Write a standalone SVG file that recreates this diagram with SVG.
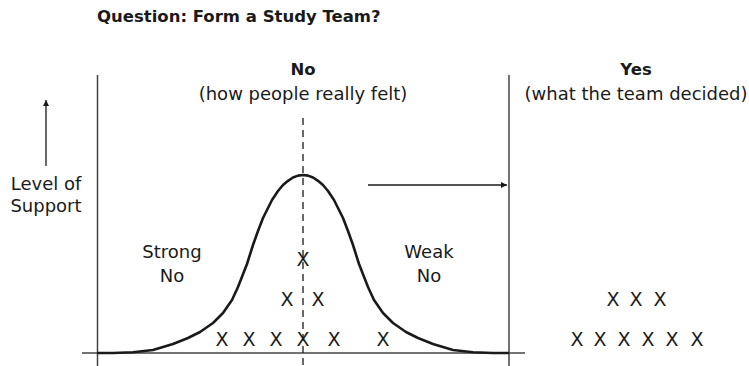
<svg xmlns="http://www.w3.org/2000/svg" width="749" height="366" viewBox="0 0 749 366">
<style>
  text { font-family: "DejaVu Sans", "Liberation Sans", sans-serif; fill: #1a1a1a; }
  .b { font-weight: bold; font-size: 16.5px; }
  .r { font-size: 18px; }
  .x { font-size: 19px; text-anchor: middle; }
  .m { text-anchor: middle; }
  .ax { stroke: #444; stroke-width: 1.5; fill: none; }
  .cv { stroke: #1a1a1a; stroke-width: 2.6; fill: none; stroke-linejoin: round; }
</style>
<defs>
  <marker id="ah" viewBox="0 0 10 10" refX="10" refY="5" markerWidth="8" markerHeight="6" markerUnits="userSpaceOnUse" orient="auto">
    <path d="M0,0 L10,5 L0,10 z" fill="#1a1a1a"/>
  </marker>
</defs>
<rect width="749" height="366" fill="#fff"/>
<g id="title"><text class="b" x="97" y="22">Question: Form a Study Team?</text></g>
<g id="axes">
  <line class="ax" x1="97.5" y1="75" x2="97.5" y2="366"/>
  <line class="ax" x1="509" y1="75" x2="509" y2="366"/>
  <line class="ax" x1="82" y1="353" x2="525" y2="353"/>
  <line x1="303" y1="118" x2="303" y2="366" stroke="#1a1a1a" stroke-width="1.3" stroke-dasharray="7,5"/>
</g>
<g id="curve">
  <path class="cv" d="M97,353 L113,353 L133,352.3 L153,350 L173,344 L188,338 L200,332 L213,323 L223,313 L232,300 L238,287 L247,264 L253,245 L258,231 L263,218 L268,208 L272,200 L278,191 L283,185 L288,180.8 L293,177.5 L298,175.6 L303,175 L308,175.6 L313,177.5 L318,180.8 L323,185 L328,191 L334,200 L338,208 L343,218 L348,231 L353,245 L359,264 L368,287 L374,300 L383,313 L393,323 L406,332 L418,338 L433,344 L453,350 L473,352.3 L493,353 L509,353"/>
</g>
<g id="connectors">
  <line x1="368" y1="185" x2="507" y2="185" stroke="#1a1a1a" stroke-width="1.3" marker-end="url(#ah)"/>
  <line x1="46" y1="166" x2="46" y2="100" stroke="#1a1a1a" stroke-width="1.3" marker-end="url(#ah)"/>
</g>
<g id="no-header">
  <text class="b m" x="303" y="75">No</text>
  <text class="r m" x="303" y="100">(how people really felt)</text>
</g>
<g id="yes-header">
  <text class="b m" x="636" y="75">Yes</text>
  <text class="r m" x="636" y="100">(what the team decided)</text>
</g>
<g id="y-label">
  <text class="r m" x="46" y="190">Level of</text>
  <text class="r m" x="46" y="212">Support</text>
</g>
<g id="strong-no">
  <text class="r m" x="172" y="258">Strong</text>
  <text class="r m" x="172" y="282">No</text>
</g>
<g id="weak-no">
  <text class="r m" x="429" y="258">Weak</text>
  <text class="r m" x="429" y="282">No</text>
</g>
<g id="votes-no">
  <text class="x" x="303" y="265.5">X</text>
  <text class="x" x="287" y="305.5">X</text>
  <text class="x" x="318" y="305.5">X</text>
  <text class="x" x="222" y="345.5">X</text>
  <text class="x" x="249" y="345.5">X</text>
  <text class="x" x="276" y="345.5">X</text>
  <text class="x" x="303" y="345.5">X</text>
  <text class="x" x="334" y="345.5">X</text>
  <text class="x" x="383" y="345.5">X</text>
</g>
<g id="votes-yes">
  <text class="x" x="613" y="306">X</text>
  <text class="x" x="636" y="306">X</text>
  <text class="x" x="660" y="306">X</text>
  <text class="x" x="577" y="345.5">X</text>
  <text class="x" x="600" y="345.5">X</text>
  <text class="x" x="624" y="345.5">X</text>
  <text class="x" x="648" y="345.5">X</text>
  <text class="x" x="672" y="345.5">X</text>
  <text class="x" x="697" y="345.5">X</text>
</g>
</svg>
